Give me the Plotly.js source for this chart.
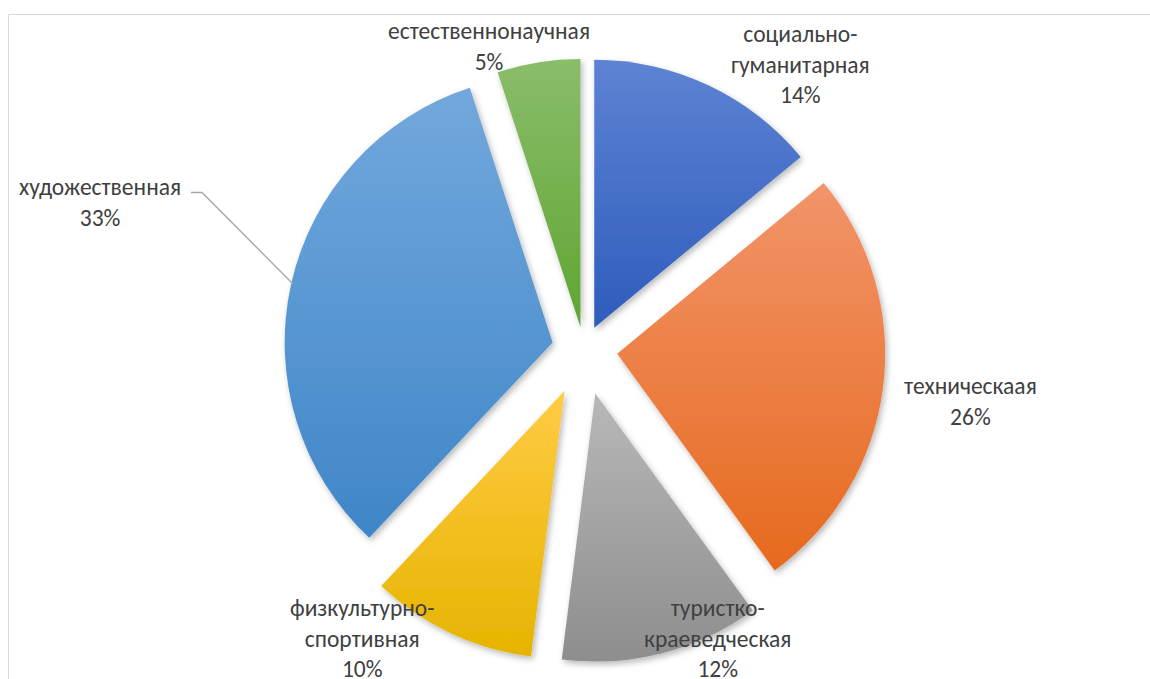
<!DOCTYPE html>
<html>
<head>
<meta charset="utf-8">
<script src="https://cdn.plot.ly/plotly-3.0.1.min.js"></script>
<style>
html,body{margin:0;padding:0;background:#fff;}
#chart{width:1150px;height:679px;}
</style>
</head>
<body>
<div id="chart"></div>
<script>
// ---- data ----
const categories = ['социально-гуманитарная', 'техническаая', 'туристко-краеведческая', 'физкультурно-спортивная', 'художественная', 'естественнонаучная'];
const values = [14, 26, 12, 10, 33, 5];
const labelLines = ['социально-<br>гуманитарная', 'техническаая', 'туристко-<br>краеведческая', 'физкультурно-<br>спортивная', 'художественная', 'естественнонаучная'];

// ---- styling ----
const W = 1150, H = 679;
const pulls = [0.09, 0.125, 0.17, 0.17, 0.12, 0.085];
const baseColors = ['#4472C4', '#ED7D31', '#A5A5A5', '#FFC000', '#5B9BD5', '#70AD47'];
const gradStops = [
  ['#5D83D3', '#2E5CBC'],
  ['#F2946A', '#E66A1E'],
  ['#B8B8B8', '#8E8E8E'],
  ['#FFCB45', '#E6B400'],
  ['#72A8DC', '#3F86C8'],
  ['#8ABD6A', '#5FA532']
];
// label centres in px (x, y of the block centre)
const labelPos = [[800, 64], [970, 401], [717, 638], [362, 638], [100, 202], [489, 47]];
const FONT = 'Carlito, "Liberation Sans Narrow", "Noto Sans", sans-serif';

const total = values.reduce((a, b) => a + b, 0);
const pct = values.map(v => Math.round(v / total * 100) + '%');

const px = x => x / W;
const py = y => 1 - y / H;

const annotations = categories.map((c, i) => ({
  xref: 'paper', yref: 'paper',
  x: px(labelPos[i][0]), y: py(labelPos[i][1]),
  xanchor: 'center', yanchor: 'middle', align: 'center',
  text: labelLines[i] + '<br>' + pct[i],
  showarrow: false,
  font: {family: FONT, size: 23.5, color: '#404040'}
}));

const shapes = [
  {type: 'rect', xref: 'paper', yref: 'paper', x0: px(8.5), x1: px(1170), y0: py(700), y1: py(14.5),
   line: {color: '#D9D9D9', width: 1}, fillcolor: 'rgba(0,0,0,0)', layer: 'below'},
  {type: 'path', xref: 'paper', yref: 'paper',
   path: 'M ' + px(191) + ',' + py(192.5) + ' L ' + px(202) + ',' + py(192.5) + ' L ' + px(293) + ',' + py(284),
   line: {color: '#A6A6A6', width: 1.3}}
];

const trace = {
  type: 'pie',
  labels: categories,
  values: values,
  sort: false,
  direction: 'clockwise',
  rotation: 0,
  pull: pulls,
  textinfo: 'none',
  hoverinfo: 'none',
  marker: {colors: baseColors, line: {width: 0}},
  domain: {x: [px(184), px(984)], y: [py(663), py(36)]},
  showlegend: false
};

const layout = {
  width: W, height: H,
  margin: {l: 0, r: 0, t: 0, b: 0},
  paper_bgcolor: '#FFFFFF',
  showlegend: false,
  annotations: annotations,
  shapes: shapes
};

Plotly.newPlot('chart', [trace], layout, {displayModeBar: false, staticPlot: true}).then(() => {
  const svg = document.querySelector('#chart svg.main-svg');
  const NS = 'http://www.w3.org/2000/svg';
  const defs = document.createElementNS(NS, 'defs');
  gradStops.forEach((s, i) => {
    const g = document.createElementNS(NS, 'linearGradient');
    g.setAttribute('id', 'sliceGrad' + i);
    g.setAttribute('x1', '0'); g.setAttribute('y1', '0');
    g.setAttribute('x2', '0'); g.setAttribute('y2', '1');
    [[0, s[0]], [1, s[1]]].forEach(([o, c]) => {
      const st = document.createElementNS(NS, 'stop');
      st.setAttribute('offset', o);
      st.setAttribute('stop-color', c);
      g.appendChild(st);
    });
    defs.appendChild(g);
  });
  const f = document.createElementNS(NS, 'filter');
  f.setAttribute('id', 'sliceShadow');
  f.setAttribute('x', '-20%'); f.setAttribute('y', '-20%');
  f.setAttribute('width', '140%'); f.setAttribute('height', '140%');
  const ds = document.createElementNS(NS, 'feDropShadow');
  ds.setAttribute('dx', '2'); ds.setAttribute('dy', '3');
  ds.setAttribute('stdDeviation', '3');
  ds.setAttribute('flood-color', '#000'); ds.setAttribute('flood-opacity', '0.28');
  f.appendChild(ds);
  defs.appendChild(f);
  svg.insertBefore(defs, svg.firstChild);
  document.querySelectorAll('#chart g.slice path.surface').forEach((p, i) => {
    p.style.fill = 'url(#sliceGrad' + i + ')';
    p.setAttribute('filter', 'url(#sliceShadow)');
  });
});
</script>
</body>
</html>
